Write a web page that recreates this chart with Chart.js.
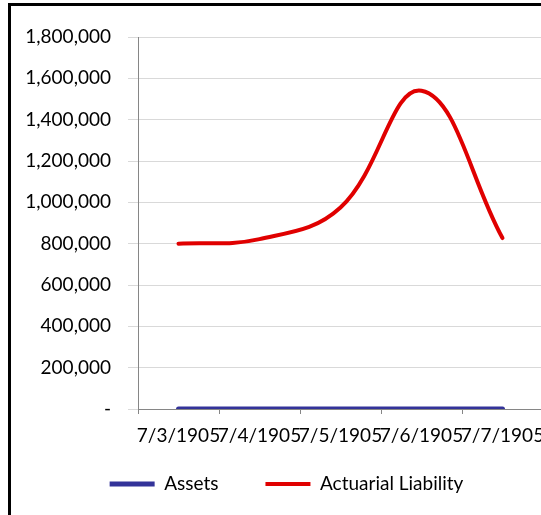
<!DOCTYPE html>
<html>
<head>
<meta charset="utf-8">
<script src="https://cdn.jsdelivr.net/npm/chart.js@4"></script>
<style>
  html, body { margin: 0; padding: 0; background: #fff; overflow: hidden; }
  #frame { position: absolute; left: 8px; top: 3px; width: 620px; height: 530px;
           border-left: 3px solid #000; border-top: 3px solid #000; }
  #wrap { position: absolute; left: 0; top: 0; width: 541px; height: 515px; overflow: hidden; }
</style>
</head>
<body>
<div id="frame"></div>
<div id="wrap"><canvas id="chart" width="560" height="515"></canvas></div>
<script>
// values
const categories = ['7/3/1905', '7/4/1905', '7/5/1905', '7/6/1905', '7/7/1905'];
const assets = [0, 0, 0, 0, 0];
const actuarialLiability = [800000, 822000, 975000, 1540000, 827000];
const yTicks = [0, 200000, 400000, 600000, 800000, 1000000, 1200000, 1400000, 1600000, 1800000];

const FONT = { family: 'Lato', size: 19 };

// wide gap between the two legend items, but keep the row close to the axis
const legendTweak = {
  id: 'legendTweak',
  beforeInit(chart) {
    const legend = chart.legend;
    const fit = legend.fit;
    legend.fit = function () {
      fit.bind(legend)();
      this.height = 50;
    };
    const draw = legend._draw;
    legend._draw = function () {
      const { top, left, right } = this;
      this.top = top - 22.5;
      this.left = left + 3;
      this.right = right + 3;
      draw.bind(legend)();
      this.top = top;
      this.left = left;
      this.right = right;
    };
  }
};

new Chart(document.getElementById('chart'), {
  type: 'line',
  data: {
    labels: categories,
    datasets: [
      {
        label: 'Assets',
        data: assets,
        borderColor: '#333399',
        backgroundColor: '#333399',
        borderWidth: 5,
        borderCapStyle: 'round',
        pointRadius: 0,
        tension: 0.4
      },
      {
        label: 'Actuarial Liability',
        data: actuarialLiability,
        borderColor: '#e00000',
        backgroundColor: '#e00000',
        borderWidth: 4,
        borderCapStyle: 'round',
        pointRadius: 0,
        tension: 0.4
      }
    ]
  },
  plugins: [legendTweak],
  options: {
    responsive: false,
    devicePixelRatio: 1,
    animation: false,
    layout: { padding: { left: 24, top: 37, right: 17, bottom: 15 } },
    plugins: {
      legend: {
        position: 'bottom',
        labels: {
          usePointStyle: true,
          pointStyle: 'line',
          pointStyleWidth: 45,
          padding: 47,
          color: '#000',
          font: FONT
        }
      },
      tooltip: { enabled: false }
    },
    scales: {
      x: {
        offset: true,
        afterFit: (scale) => { scale.height = 41; },
        grid: {
          offset: true,
          drawOnChartArea: false,
          drawTicks: true,
          tickLength: 5,
          color: '#868686'
        },
        border: { display: true, color: '#868686' },
        ticks: { color: '#000', font: FONT, padding: 10, maxRotation: 0, autoSkip: false }
      },
      y: {
        min: 0,
        max: yTicks[yTicks.length - 1],
        afterFit: (scale) => { scale.width = 114; },
        afterBuildTicks: (scale) => { scale.ticks = yTicks.map(v => ({ value: v })); },
        grid: { color: '#d9d9d9', tickLength: 10 },
        border: { display: true, color: '#868686' },
        ticks: {
          color: '#000',
          font: FONT,
          padding: 17,
          callback: (v) => v === 0 ? '-' : v.toLocaleString('en-US')
        }
      }
    }
  }
});
</script>
</body>
</html>
